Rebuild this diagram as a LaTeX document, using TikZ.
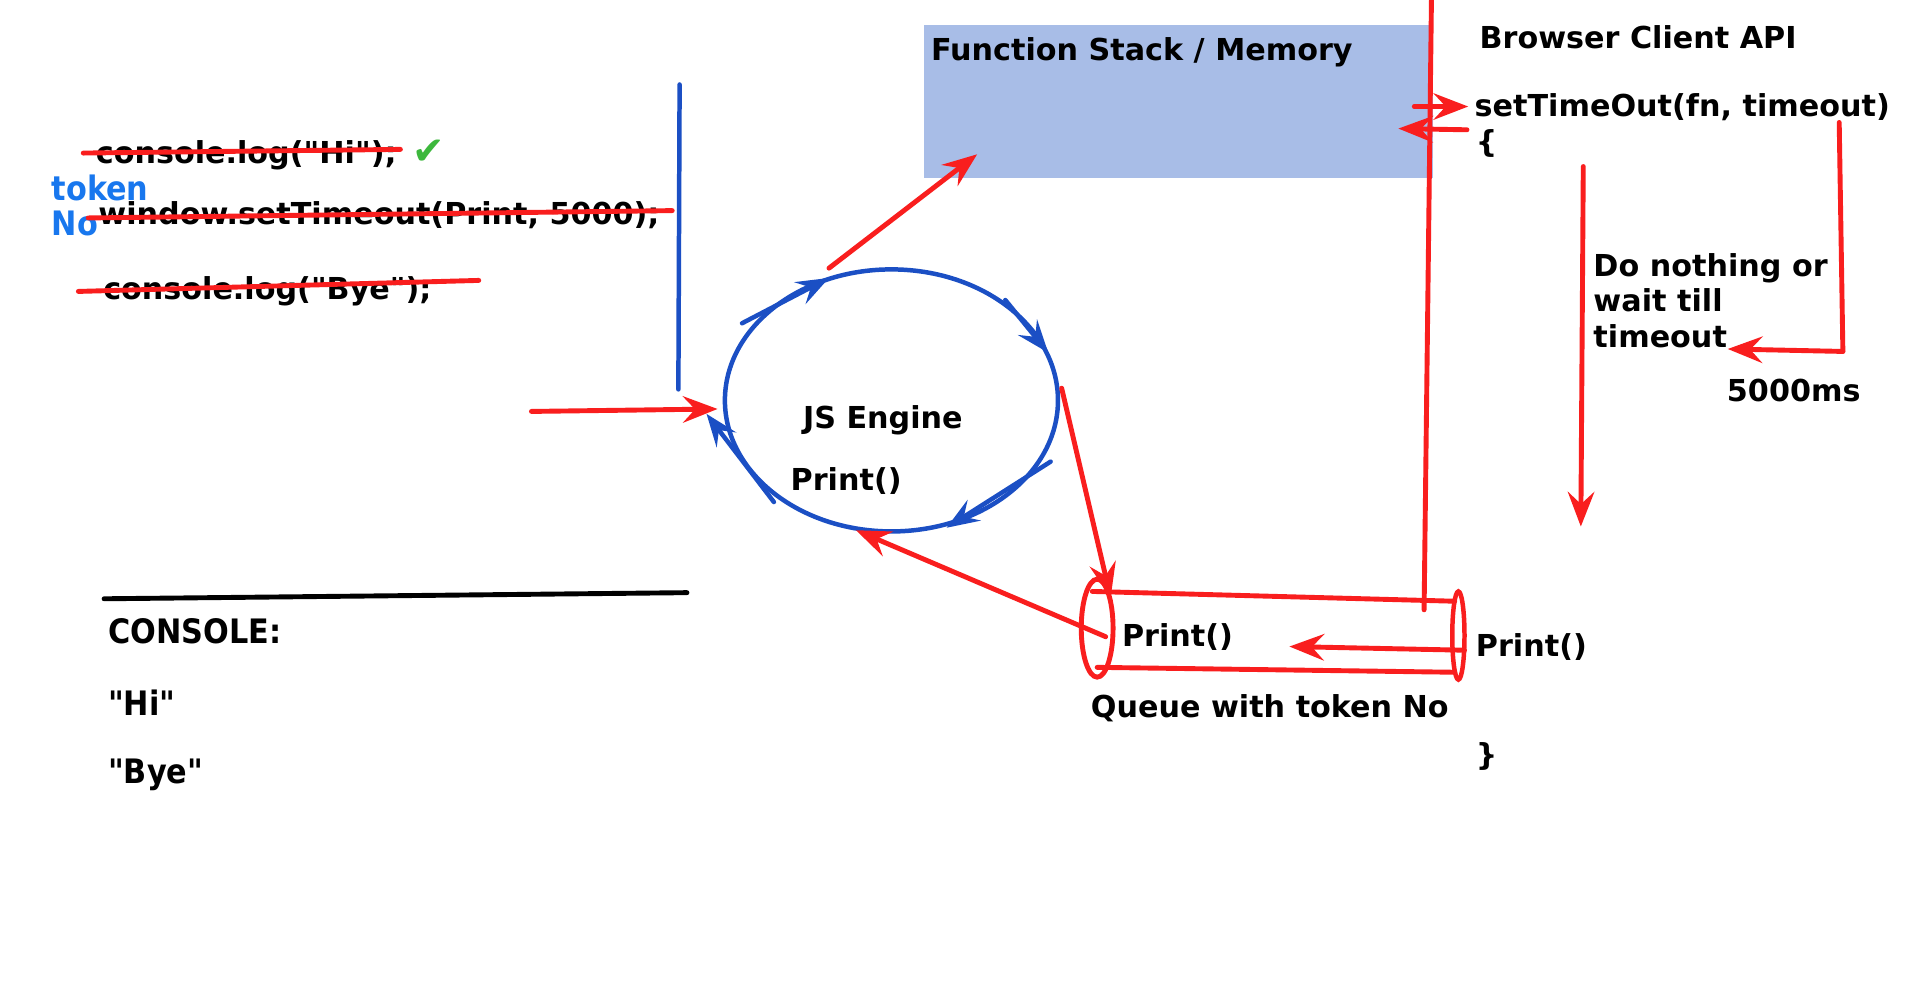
\documentclass[tikz,border=0pt]{standalone}
\usepackage{fontspec}
\setmainfont{DejaVu Sans}
\newfontfamily\mainf{DejaVu Sans}
\newfontfamily\condf{DejaVu Sans Condensed}
\usetikzlibrary{arrows.meta,shapes.geometric}
\definecolor{rd}{HTML}{F91E1E}
\definecolor{bl}{HTML}{1B4FC4}
\definecolor{tk}{HTML}{1877EE}
\definecolor{gr}{HTML}{3DB83D}
\definecolor{fs}{HTML}{A8BDE7}
\begin{document}
\begin{tikzpicture}[x=0.6pt,y=-0.6pt,
  txt/.style={font=\mainf\fontsize{14.8}{17.4}\selectfont\bfseries, inner sep=0pt, anchor=west, align=left, yshift=-1.5pt},
  ctxt/.style={font=\condf\fontsize{16.5}{19}\selectfont\bfseries, inner sep=0pt, anchor=west, yshift=-1.5pt},
  redln/.style={draw=rd, line width=2.4pt, line cap=round},
  redarr/.style={redln, -{Stealth[length=17pt,width=13pt,inset=6pt]}},
  blueln/.style={draw=bl, line width=2.2pt, line cap=round},
  bluearr/.style={blueln, -{Stealth[length=16pt,width=12pt,inset=6pt]}}]
\useasboundingbox (0,0) rectangle (1568,809);
\fill[white] (0,0) rectangle (1568,809);

% function stack
\node (stack) [fill=fs, inner sep=0pt, minimum width=249.6pt, minimum height=75pt, anchor=north west] at (754,20) {};
\node (stacklbl) [txt] at (760,40) {Function Stack / Memory};

% code lines
\node (c1) [txt] at (78,124) {console.log("Hi");};
\node (c2) [txt] at (80,173) {window.setTimeout(Print, 5000);};
\node (c3) [txt] at (84,235) {console.log("Bye");};
\node (chk) [font=\mainf\fontsize{19}{20}\selectfont, text=gr, inner sep=0pt] at (350,124) {✔};
\node (tok) [font=\condf\fontsize{16.5}{19}\selectfont\bfseries, text=tk, inner sep=0pt, anchor=west, align=left, yshift=-1.5pt] at (42,165) {token\\[-2pt]No};
\coordinate (s1a) at (68,125); \coordinate (s1b) at (327,122);
\coordinate (s2a) at (72,178); \coordinate (s2b) at (549,172);
\coordinate (s3a) at (64,238); \coordinate (s3b) at (391,229);
\draw[redln] (s1a) -- (s1b);
\draw[redln] (s2a) -- (s2b);
\draw[redln] (s3a) -- (s3b);

% blue divider
\coordinate (bv1) at (555,69); \coordinate (bv2) at (554,318);
\draw[blueln] (bv1) -- (bv2);

% JS engine
\node (engine) [ellipse, draw=bl, line width=2.2pt, minimum width=163.2pt, minimum height=128.4pt, inner sep=0pt] at (728,327) {};
\node (jsl) [txt, anchor=center] at (721,341) {JS Engine};
\node (jsp) [txt, anchor=center] at (691,390) {Print()};
\coordinate (ea1) at (606,264); \coordinate (ea2) at (677,227);
\coordinate (eb1) at (821,245); \coordinate (eb2) at (856,288);
\coordinate (ec1) at (858,377); \coordinate (ec2) at (773,431);
\coordinate (ed1) at (632,410); \coordinate (ed2) at (577,338);
\draw[bluearr] (ea1) -- (ea2);
\draw[bluearr] (eb1) -- (eb2);
\draw[bluearr] (ec1) -- (ec2);
\draw[bluearr] (ed1) -- (ed2);

% input arrow
\coordinate (in1) at (434,336); \coordinate (in2) at (586,334);
\draw[redarr] (in1) -- (in2);

% engine -> stack
\coordinate (es1) at (677,219); \coordinate (es2) at (798,126);
\draw[redarr] (es1) -- (es2);

% engine -> queue
\coordinate (eq1) at (867,317); \coordinate (eq2) at (907,488);
\draw[redarr] (eq1) -- (eq2);

% queue -> engine
\coordinate (qe1) at (903,520); \coordinate (qe2) at (699,433);
\draw[redarr] (qe1) -- (qe2);

% queue
\node (ql) [ellipse, draw=rd, line width=2.4pt, minimum width=15.6pt, minimum height=48pt, inner sep=0pt] at (896,513) {};
\node (qr) [ellipse, draw=rd, line width=2.2pt, minimum width=6pt, minimum height=43.2pt, inner sep=0pt] at (1191,519) {};
\coordinate (qt1) at (892,483); \coordinate (qt2) at (1188,491);
\coordinate (qb1) at (896,545); \coordinate (qb2) at (1188,549);
\draw[redln] (qt1) -- (qt2);
\draw[redln] (qb1) -- (qb2);
\node (qp) [txt] at (916,518) {Print()};
\node (qrp) [txt] at (1205,526) {Print()};
\coordinate (qa1) at (1196,531); \coordinate (qa2) at (1053,528);
\draw[redarr] (qa1) -- (qa2);
\node (qlbl) [txt, anchor=center] at (1037,576) {Queue with token No};

% long red vertical
\coordinate (lv1) at (1169,0); \coordinate (lv2) at (1163,498);
\draw[redln] (lv1) -- (lv2);

% browser API
\node (bapi) [txt] at (1208,28) {Browser Client API};
\node (sto) [txt] at (1204,85) {setTimeOut(fn, timeout)};
\node (ob) [txt] at (1205,115) {\{};
\node (cb) [txt] at (1205,615) {\}};
\coordinate (sa1) at (1155,87); \coordinate (sa2) at (1199,87);
\draw[redarr] (sa1) -- (sa2);
\coordinate (sb1) at (1198,106); \coordinate (sb2) at (1142,105);
\draw[redarr] (sb1) -- (sb2);

\coordinate (dn1) at (1293,136); \coordinate (dn2) at (1291,430);
\draw[redarr] (dn1) -- (dn2);
\node (wait) [txt] at (1301,243) {Do nothing or\\wait till\\timeout};

\coordinate (to1) at (1502,100); \coordinate (to2) at (1505,287); \coordinate (to3) at (1411,285);
\draw[redln] (to1) -- (to2);
\draw[redarr] (to2) -- (to3);
\node (ms) [txt] at (1410,316) {5000ms};

% console
\coordinate (cl1) at (85,489); \coordinate (cl2) at (561,484);
\draw[line width=2.4pt, line cap=round] (cl1) -- (cl2);
\node (con) [ctxt] at (88,513) {CONSOLE:};
\node (hi) [ctxt] at (88,571) {"Hi"};
\node (bye) [ctxt] at (88,630) {"Bye"};
\end{tikzpicture}
\end{document}
